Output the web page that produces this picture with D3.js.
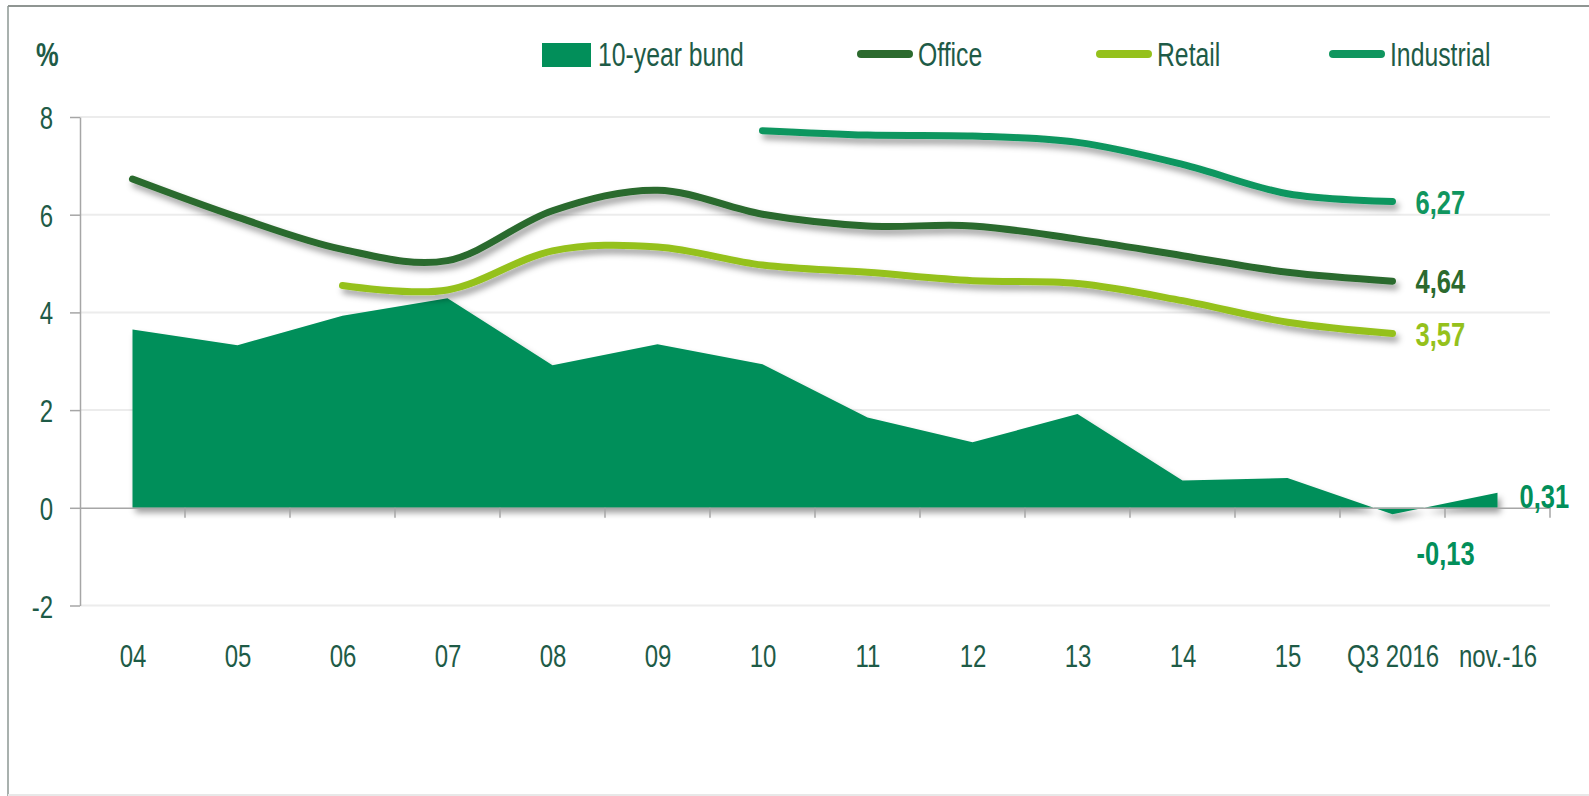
<!DOCTYPE html>
<html>
<head>
<meta charset="utf-8">
<script src="https://cdn.jsdelivr.net/npm/d3@7"></script>
<style>
  body { margin: 0; background: #fff; }
  text { font-family: "Liberation Sans", Arial, sans-serif; fill: #1e5b47; }
</style>
</head>
<body>
<div id="chart"></div>
<script>
// data
var categories = ["04", "05", "06", "07", "08", "09", "10", "11", "12", "13", "14", "15", "Q3 2016", "nov.-16"];
var bund       = [3.65, 3.33, 3.93, 4.29, 2.92, 3.35, 2.94, 1.85, 1.34, 1.92, 0.56, 0.61, -0.13, 0.31];
var office     = [6.73, 5.95, 5.29, 5.06, 6.08, 6.50, 6.01, 5.77, 5.77, 5.50, 5.16, 4.82, 4.64, null];
var retail     = [null, null, 4.55, 4.46, 5.26, 5.34, 4.97, 4.82, 4.65, 4.59, 4.24, 3.80, 3.57, null];
var industrial = [null, null, null, null, null, null, 7.72, 7.63, 7.61, 7.48, 7.03, 6.43, 6.27, null];
var yTicks = [-2, 0, 2, 4, 6, 8];
var legendNames = ["10-year bund", "Office", "Retail", "Industrial"];

var w = 1589, h = 796;
var squish = "scale(0.75,1)";  // reference font is a tall condensed face

var colBund = "#028f5a", colOffice = "#2c6a2e", colRetail = "#95c11c", colInd = "#10965f";

// plain hyphen for negatives, comma decimals
var loc = d3.formatLocale({ decimal: ",", thousands: ".", grouping: [3], currency: ["", ""], minus: "-" });

var svg = d3.select("#chart").append("svg")
  .attr("width", w).attr("height", h);

var defs = svg.append("defs");
var f = defs.append("filter").attr("id", "shadow")
  .attr("x", "-5%").attr("y", "-10%").attr("width", "115%").attr("height", "130%");
f.append("feDropShadow").attr("dx", 3).attr("dy", 5).attr("stdDeviation", 3)
  .attr("flood-color", "#000").attr("flood-opacity", 0.38);

// frame
svg.append("line").attr("x1", 8).attr("x2", 8).attr("y1", 6).attr("y2", 796)
  .attr("stroke", "#a9b1ae").attr("stroke-width", 2);
svg.append("line").attr("x1", 8).attr("x2", w).attr("y1", 6).attr("y2", 6)
  .attr("stroke", "#8f9592").attr("stroke-width", 2);
svg.append("line").attr("x1", 8).attr("x2", w).attr("y1", 795).attr("y2", 795)
  .attr("stroke", "#e8e8e8").attr("stroke-width", 2);

var x = d3.scalePoint().domain(categories).range([80, 1550]).padding(0.5);
var y = d3.scaleLinear().domain([-2, 8]).range([605.5, 117]);

// gridlines
svg.append("g").selectAll("line")
  .data(yTicks.filter(function(d) { return d !== 0; }))
  .enter().append("line")
  .attr("x1", 80).attr("x2", 1550)
  .attr("y1", function(d) { return y(d); }).attr("y2", function(d) { return y(d); })
  .attr("stroke", "#ececec").attr("stroke-width", 2);

// area
var area = d3.area()
  .x(function(d, i) { return x(categories[i]); })
  .y0(y(0))
  .y1(function(d) { return y(d); });
svg.append("path").datum(bund)
  .attr("d", area).attr("fill", colBund).attr("filter", "url(#shadow)");

// y axis
var yAxis = svg.append("g").attr("transform", "translate(80,0)")
  .call(d3.axisLeft(y).tickValues(yTicks).tickSize(10).tickSizeOuter(0).tickFormat(loc.format("d")));
yAxis.select(".domain").attr("stroke", "#a6a6a6").attr("stroke-width", 1.5);
yAxis.selectAll(".tick line").attr("stroke", "#a6a6a6").attr("stroke-width", 1.5);
yAxis.selectAll(".tick text")
  .attr("x", -36).attr("dy", "0.36em").attr("transform", squish)
  .style("font-size", "32px").style("fill", "#1e5b47");

// x axis
var xAxis = svg.append("g").attr("transform", "translate(0," + y(0) + ")")
  .call(d3.axisBottom(x).tickSize(0).tickSizeOuter(0));
xAxis.select(".domain").attr("stroke", "#a6a6a6").attr("stroke-width", 1.5);
xAxis.selectAll(".tick text")
  .attr("x", 0).attr("y", 159).attr("dy", 0).attr("transform", squish)
  .style("font-size", "32px").style("fill", "#1e5b47");
// boundary ticks between categories
svg.append("g").selectAll("line")
  .data(d3.range(1, categories.length + 1))
  .enter().append("line")
  .attr("x1", function(i) { return 80 + i * x.step(); })
  .attr("x2", function(i) { return 80 + i * x.step(); })
  .attr("y1", y(0)).attr("y2", y(0) + 10)
  .attr("stroke", "#a6a6a6").attr("stroke-width", 1.5);

// lines
var line = d3.line()
  .defined(function(d) { return d !== null; })
  .x(function(d, i) { return x(categories[i]); })
  .y(function(d) { return y(d); })
  .curve(d3.curveCardinal.tension(0));

[[office, colOffice], [retail, colRetail], [industrial, colInd]].forEach(function(s) {
  svg.append("path").datum(s[0])
    .attr("d", line).attr("fill", "none")
    .attr("stroke", s[1]).attr("stroke-width", 7)
    .attr("stroke-linecap", "round").attr("stroke-linejoin", "round")
    .attr("filter", "url(#shadow)");
});

// end labels
var fmt = loc.format(".2f");
var q3 = categories.length - 2, nov = categories.length - 1;
var endLabels = [
  { v: industrial[q3], cx: x(categories[q3]) + 23, cy: y(industrial[q3]), c: colInd },
  { v: office[q3],     cx: x(categories[q3]) + 23, cy: y(office[q3]),     c: colOffice },
  { v: retail[q3],     cx: x(categories[q3]) + 23, cy: y(retail[q3]),     c: colRetail },
  { v: bund[q3],       cx: x(categories[q3]) + 24, cy: y(bund[q3]) + 39,  c: colBund },
  { v: bund[nov],      cx: x(categories[nov]) + 22, cy: y(bund[nov]) + 3, c: colBund }
];
svg.append("g").selectAll("text")
  .data(endLabels)
  .enter().append("text")
  .attr("transform", function(d) { return "translate(" + d.cx + "," + d.cy + ") " + squish; })
  .attr("dy", "0.36em")
  .style("font-size", "34px").style("font-weight", "bold")
  .style("fill", function(d) { return d.c; })
  .text(function(d) { return fmt(d.v); });

// unit label
svg.append("text")
  .attr("transform", "translate(36,66) " + squish)
  .style("font-size", "34px").style("font-weight", "bold").style("fill", "#1e5b47")
  .text("%");

// legend
var legendX = [542, 857, 1096, 1329];
var legendCol = [colBund, colOffice, colRetail, colInd];
var lg = svg.append("g");
legendNames.forEach(function(name, i) {
  var g = lg.append("g").attr("transform", "translate(" + legendX[i] + ",0)");
  if (i === 0) {
    g.append("rect").attr("x", 0).attr("y", 43).attr("width", 49).attr("height", 24)
      .attr("fill", legendCol[i]);
  } else {
    g.append("line").attr("x1", 4).attr("x2", 52).attr("y1", 54).attr("y2", 54)
      .attr("stroke", legendCol[i]).attr("stroke-width", 8).attr("stroke-linecap", "round");
  }
  g.append("text")
    .attr("transform", "translate(" + (i === 0 ? 56 : 61) + ",66) " + squish)
    .style("font-size", "33px").style("fill", "#1e5b47")
    .text(name);
});
</script>
</body>
</html>
